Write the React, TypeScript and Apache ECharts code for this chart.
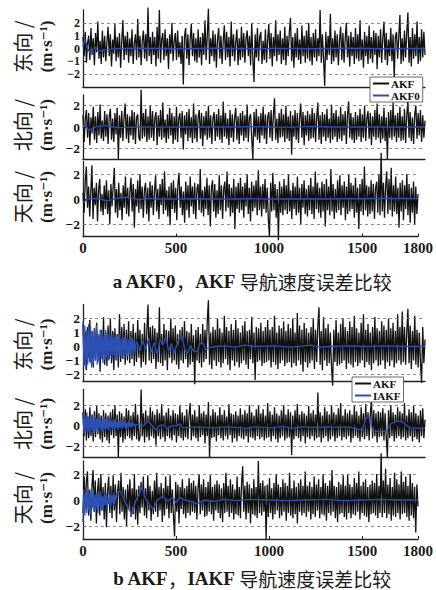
import React, { useEffect, useRef } from "react";
import * as echarts from "echarts";

// sampling step of the error series (s)
const STEP = 6;
const DENSE_STEP = 5;
const X_TICKS = [0, 500, 1000, 1500, 1800];

// ---- Figure a: AKF (black) vs AKF0 (blue) ----
const akfEastA = [
  0.9,-0.6,1.3,-1.1,0.4,1.0,-0.9,1.6,-0.5,0.8,-1.3,1.2,-0.3,2.1,-0.8,0.6,-1.2,1.4,-0.7,1.0,
  -1.0,0.5,1.7,-0.6,1.1,-1.4,0.7,-0.4,1.9,-1.0,0.9,-0.7,1.2,-1.5,0.6,2.2,-0.9,1.0,-0.5,1.3,
  -1.1,0.8,-0.6,1.5,-1.2,0.4,1.1,-0.9,2.3,-0.7,1.0,-1.3,0.6,1.4,-0.8,1.1,-1.0,3.2,-0.6,0.9,
  -1.2,1.3,-0.5,0.9,-1.4,1.7,-0.8,3.0,-1.1,0.7,1.2,-0.9,1.5,-0.6,0.8,-1.6,1.1,-0.4,2.0,-1.0,
  0.6,1.2,-0.9,1.4,-0.7,0.5,-1.2,1.0,-2.8,0.9,1.6,-0.8,1.1,-1.3,0.7,1.9,-0.6,1.2,-1.0,0.8,
  -1.1,1.5,-0.7,0.9,-1.3,1.2,-0.5,2.2,-0.9,1.0,3.1,-1.2,0.8,-0.6,1.4,-1.0,1.1,-1.5,0.7,1.6,
  -0.8,1.0,-1.2,0.6,1.8,-0.9,1.3,-0.7,0.9,-1.4,2.1,-0.6,1.1,-1.0,0.5,1.5,-1.3,0.8,-0.9,1.7,
  -0.7,1.2,-1.1,0.8,1.4,-0.6,1.0,-1.3,2.0,-0.8,-2.6,1.1,-0.7,1.6,-1.0,0.9,1.3,-1.2,0.6,-0.9,
  1.5,-1.1,0.7,1.9,-0.8,1.2,-1.4,0.9,-0.6,2.2,-1.0,1.1,-0.5,1.4,-1.2,0.8,-0.9,1.7,-1.3,1.0,
  -0.6,1.3,2.4,-1.0,0.9,-1.5,1.2,-0.7,1.6,-0.9,0.7,-1.2,1.8,-0.6,1.0,-1.1,1.4,-0.8,2.0,-1.0,
  0.9,-1.3,1.2,-0.7,1.5,-1.0,0.8,-0.6,3.0,-1.1,1.1,-0.8,-2.9,1.3,-0.9,1.0,-0.5,2.7,-1.2,0.8,
  -1.0,1.4,-0.7,1.1,-1.3,0.6,1.7,-0.9,1.2,-1.1,0.8,2.0,-0.7,1.0,-1.4,1.3,-0.6,0.9,-1.2,1.6,
  -0.8,1.1,-1.0,2.2,-0.9,0.7,-1.5,1.3,-0.6,1.0,-1.2,1.8,-0.8,0.9,-1.1,1.4,-0.5,1.2,-1.6,1.0,
  -0.7,1.5,-1.1,0.8,2.1,-0.9,1.2,-1.3,0.7,-0.6,1.6,-1.0,1.1,-2.3,0.9,1.3,-0.8,1.0,2.6,-1.2,
  0.8,-1.0,1.4,-0.7,1.2,2.8,-1.1,0.9,-1.4,1.6,-0.8,1.1,-0.6,2.1,-1.2,0.9,-1.0,1.5,-0.7,1.3,
  -0.5,
];
const akfNorthA = [
  1.1,-1.4,0.7,1.6,-1.0,1.3,-1.7,0.9,-0.6,1.9,-1.2,1.0,-1.5,1.4,-0.8,2.1,-1.1,0.6,-1.3,1.5,
  -0.9,1.2,-1.6,1.0,1.7,-1.2,0.8,-1.4,1.3,-0.7,1.8,-3.0,1.1,-1.0,1.5,-1.3,0.9,2.2,-1.1,1.2,
  -1.5,1.0,-0.8,1.6,-1.2,1.4,-1.6,0.9,1.2,-1.0,-1.3,3.5,-1.1,1.3,-0.9,1.7,-1.4,1.0,-1.2,2.0,
  -1.0,1.5,-1.3,0.8,1.4,-1.7,1.1,-0.9,1.6,-1.2,2.3,-1.0,0.7,-1.5,1.2,-1.1,1.8,-0.8,1.3,-1.6,
  1.0,-1.2,1.9,-1.4,0.8,1.3,-1.0,1.5,-2.1,1.1,-0.7,1.4,-1.3,1.7,-1.0,0.9,-1.5,2.2,-1.1,1.2,
  -1.4,0.9,1.6,-1.1,1.3,-1.8,1.0,-0.8,1.5,-1.2,2.0,-1.0,1.1,-1.6,0.8,1.4,-1.3,1.2,-0.9,1.7,
  -1.2,1.1,-1.5,2.4,-0.9,1.3,-1.1,0.8,-1.7,1.6,-1.0,1.2,-1.4,0.9,1.8,-1.2,1.0,-1.6,1.3,-0.8,
  1.5,-1.3,1.1,-1.0,2.1,-1.4,0.9,1.2,-1.1,-3.0,1.4,-0.9,1.7,-1.2,1.0,-1.5,1.3,-0.8,1.9,-1.1,
  1.2,-1.6,0.9,1.4,-1.0,1.6,-1.3,1.1,2.7,-1.2,0.8,-1.5,1.3,-1.0,1.7,-0.9,1.2,-1.4,2.0,-1.1,
  1.0,-1.3,1.5,-2.6,1.1,-0.9,1.6,-1.2,1.3,-1.5,0.9,2.2,-1.0,1.4,-1.7,1.1,-0.8,1.5,-1.3,1.2,
  -1.1,1.8,-1.0,1.3,-1.4,0.9,2.3,-1.2,1.1,-1.6,1.4,-0.9,1.2,-1.3,1.7,-1.0,0.8,-1.5,2.1,-1.2,
  1.3,-0.9,1.6,-1.4,1.0,-1.1,1.9,-1.3,1.2,-0.8,1.5,-1.6,1.1,2.4,-1.0,1.3,-1.2,0.9,-1.5,1.4,
  -1.2,1.1,-0.9,1.7,-1.4,1.2,-1.0,2.0,-1.3,0.8,1.5,-1.1,1.3,-1.7,1.0,-0.9,1.6,-1.2,2.2,-1.0,
  1.2,-1.5,1.0,-1.1,1.8,-1.3,0.9,-3.0,1.4,-1.0,1.6,-1.2,2.3,-0.9,1.1,-1.4,1.3,-1.0,1.9,-1.3,
  1.0,-1.2,1.7,-1.5,1.1,2.5,-1.0,1.4,-1.3,0.9,-1.6,1.2,2.0,-1.1,1.3,-0.8,1.6,-1.4,1.1,-1.0,
  0.6,
];
const akfUpA = [
  0.5,-1.1,1.4,2.6,-0.7,1.0,-1.4,0.6,2.7,-1.6,0.9,-0.5,1.3,-1.8,0.8,1.6,-1.0,0.4,-1.3,1.1,
  -0.8,1.5,-1.2,0.7,-2.0,1.2,-0.6,1.0,2.5,-1.1,0.8,-1.5,1.3,-0.9,0.5,-1.7,1.1,-0.7,1.8,-1.2,
  0.9,-1.4,0.6,1.7,-1.0,1.2,-2.3,0.8,-0.6,1.5,-1.1,2.0,-0.8,1.0,-1.5,0.7,1.3,-1.2,0.9,-1.8,
  1.4,-0.7,1.1,-1.3,0.6,1.9,-1.0,0.8,-1.6,1.2,-0.5,1.6,-1.2,2.2,-0.9,0.7,-1.4,1.0,-2.1,1.3,
  -0.8,1.5,-1.1,0.9,-1.7,1.2,2.1,-0.7,1.0,-1.3,0.6,-1.9,1.4,-0.9,1.1,-1.5,1.8,-0.6,1.0,-1.2,
  1.3,-1.6,0.8,1.2,-0.9,2.4,-1.1,0.7,-1.4,1.0,-0.8,1.7,-1.3,1.1,-2.2,0.9,1.5,-1.0,1.2,-1.5,
  0.7,-1.2,1.9,-0.9,1.1,-1.6,0.8,1.4,-1.0,2.2,-0.7,1.2,-1.4,0.9,-1.1,1.6,-2.4,1.0,-0.8,1.3,
  -1.1,1.7,-0.9,1.0,-1.5,1.3,-0.6,2.0,-1.2,0.9,-1.8,1.4,-1.0,1.1,-0.7,1.5,-1.3,2.3,-0.9,1.0,
  -1.4,1.2,-0.8,1.6,-1.1,0.9,-1.7,-3.0,1.3,-1.0,2.1,-0.9,1.2,-1.5,0.8,-3.3,1.4,-1.1,1.0,-1.3,
  1.6,-0.9,1.1,-1.2,2.0,-1.0,0.7,-1.6,1.3,-0.8,1.0,-1.3,1.8,-1.1,0.9,-2.0,1.2,-0.7,1.5,-1.2,
  0.8,-1.4,1.1,-0.9,1.7,-1.2,1.0,-1.6,2.2,-0.8,1.3,-1.1,0.9,-1.5,1.4,-1.0,1.2,-2.2,1.6,-0.9,
  1.0,-1.3,2.4,-1.0,1.2,-1.6,0.8,-1.1,1.5,-0.9,1.9,-1.3,1.1,-0.7,1.4,-1.7,1.0,-1.2,2.0,-1.0,
  1.3,-0.8,1.1,-1.5,1.7,-1.1,0.9,-2.4,1.2,-1.0,1.6,-1.3,2.6,-0.9,1.1,-1.4,1.0,-1.2,1.5,-1.0,
  1.2,-1.6,0.9,1.4,-1.1,2.0,-1.3,3.7,-1.0,1.3,-1.5,1.0,2.2,-1.2,1.6,-0.9,2.5,-1.4,1.1,-1.0,
  1.8,-1.2,0.9,-2.3,1.3,-1.0,1.5,-1.7,1.1,-0.8,2.0,-1.3,1.2,-1.9,0.9,-1.1,1.4,-2.0,1.0,-1.2,
  0.4,
];
const akf0EastA = [
  [0,0.1],[5,0.5],[10,0.7],[15,0.5],[25,0.0],[35,-0.3],[45,-0.3],[55,0.0],[65,0.1],[75,-0.1],
  [90,-0.2],[110,-0.1],[150,-0.05],[200,0],[300,0.02],[400,0],[500,-0.02],[600,0],[700,0.02],
  [800,0],[900,-0.02],[1000,0],[1100,0],[1200,-0.02],[1300,0],[1400,0.02],[1500,0],[1600,-0.02],
  [1700,0],[1800,0],
];
const akf0NorthA = [
  [0,-0.1],[8,0.3],[15,0.2],[25,-0.2],[35,-0.3],[50,-0.1],[80,0.05],[120,0.12],[160,0],[200,-0.05],
  [300,0],[400,-0.02],[500,0],[600,0.02],[700,0],[800,0],[900,0.03],[1000,0],[1100,-0.02],
  [1200,0.05],[1300,0],[1400,0],[1500,0],[1600,0.02],[1700,0],[1800,0],
];
const akf0UpA = [
  [0,-0.3],[10,-0.2],[20,0],[50,0.05],[90,0.0],[130,-0.15],[160,-0.05],[200,0.1],[240,0.15],
  [270,0.05],[300,-0.05],[350,0.05],[400,0],[500,0],[600,0.02],[700,0],[800,0],[900,0.02],
  [1000,0],[1100,0],[1200,0.02],[1300,0],[1400,0.02],[1500,0.02],[1600,0.04],[1700,0.04],[1800,0.03],
];

// ---- Figure b: AKF (black) vs IAKF (blue) ----
const akfEastB = [
  1.6,-1.3,1.0,-1.7,1.4,-0.8,1.9,-1.2,1.1,-1.5,1.3,-1.0,1.7,-1.1,0.8,-1.8,1.2,-0.9,2.1,-1.3,
  1.0,-1.4,1.5,-0.9,2.0,-1.2,1.1,-1.7,1.3,-1.0,0.9,-1.5,2.3,-1.1,1.4,-0.9,1.6,-1.3,1.2,-1.0,
  1.8,-1.2,1.1,-0.9,1.6,-1.4,1.0,-1.1,1.9,-0.8,1.2,-1.5,0.9,-1.1,1.7,-1.3,1.1,3.0,-1.0,1.4,
  -1.2,1.5,-0.9,1.3,-1.6,1.0,-1.1,2.8,-1.2,0.9,-1.4,1.6,-1.0,1.2,-1.7,1.1,-0.8,2.0,-1.2,1.3,
  -1.0,1.5,-1.3,0.9,-1.6,1.2,-1.0,1.4,-1.2,1.8,-0.9,1.1,-1.5,1.0,-1.3,1.6,-1.1,0.8,-2.7,1.2,
  -1.0,1.4,-1.2,0.9,-1.5,1.6,-1.1,1.2,-0.9,1.8,3.3,-1.3,1.0,-1.6,1.4,-1.0,1.2,-1.4,2.0,-1.1,
  1.3,-1.5,1.0,-1.2,2.2,-0.9,1.4,-1.3,1.1,-1.7,1.6,-1.0,1.2,-1.4,1.9,-1.1,1.3,-1.5,1.0,-1.2,
  1.5,-1.0,1.8,-1.3,1.1,-1.6,1.2,-0.9,2.1,-1.2,1.0,-2.4,1.4,-1.1,1.3,-1.0,1.7,-1.4,1.1,-1.2,
  1.4,-1.1,1.9,-1.0,1.2,-1.5,1.4,-1.1,2.2,-1.3,1.0,-1.6,1.5,-1.2,1.3,-1.0,1.8,-1.4,1.1,-1.2,
  1.6,-1.1,1.3,-1.5,2.0,-1.2,1.0,-1.4,2.4,-1.0,1.5,-1.3,1.2,-1.8,1.7,-1.1,1.3,-1.5,1.0,-1.2,
  1.4,-1.0,2.0,-1.6,1.2,-1.1,1.5,2.8,-1.3,1.1,-1.7,2.1,-1.0,1.3,-1.4,1.6,-1.2,1.0,-1.5,-2.8,
  1.2,-1.1,1.9,-1.4,1.0,-1.3,1.6,-1.2,2.0,-1.0,1.4,-1.6,1.1,-1.2,1.8,-1.3,1.4,-1.5,2.2,-1.1,
  1.3,-1.4,1.0,-1.2,1.7,-1.0,2.3,-1.5,1.2,-1.1,1.6,-1.3,1.0,-1.7,1.4,-1.2,2.1,-1.0,1.3,-1.4,
  1.1,-1.3,1.8,-1.0,1.5,-1.6,1.2,-1.1,2.0,-1.4,1.3,-1.0,1.7,-1.5,1.1,-1.2,2.3,-1.0,1.4,-1.3,
  2.5,-1.1,1.4,-1.3,1.0,2.7,-1.2,1.5,-1.6,1.1,-1.0,2.2,-1.3,1.2,-1.5,1.0,-1.1,-2.6,1.4,-1.2,
  0.5,
];
const akfNorthB = [
  1.3,-1.0,1.6,-1.4,0.9,-1.2,1.8,-1.0,1.1,-1.5,1.4,-1.1,1.9,-0.8,1.2,-1.3,1.0,-1.6,1.5,-1.1,
  1.2,-1.4,1.0,-1.7,1.3,-0.9,1.6,-1.2,2.0,-1.0,1.1,-3.0,1.4,-1.1,1.2,-1.6,0.9,-1.3,1.7,-1.0,
  1.5,-1.2,1.0,-1.4,1.3,-1.0,2.1,-1.3,1.1,-1.5,-1.1,3.5,-1.0,1.2,-1.6,1.5,-1.1,1.0,-1.4,1.8,
  -1.0,1.4,-1.2,1.1,-1.9,1.6,-1.0,1.2,-1.3,2.1,-1.1,1.0,-1.5,1.3,-1.0,1.7,-1.2,1.0,-1.4,1.5,
  -0.9,1.2,-1.6,1.1,-1.0,1.9,-1.2,1.3,-1.4,1.0,-1.1,1.6,-1.3,1.0,2.2,-1.4,1.1,-1.0,1.5,-1.2,
  0.9,-1.5,2.0,-1.1,1.2,-0.9,1.4,-1.7,1.1,-1.0,2.3,-3.0,1.0,-1.2,1.6,-1.1,1.3,-1.5,1.0,-0.9,
  1.8,-1.2,1.1,-1.4,1.5,-1.0,0.9,-1.3,2.1,-0.9,1.2,-1.6,1.1,-1.2,1.4,-1.5,1.0,-1.0,1.7,-1.2,
  1.1,-1.3,1.5,-1.0,1.2,-1.6,2.0,-1.1,1.3,-1.2,1.0,-1.4,1.6,-1.0,1.9,-1.3,1.2,-1.1,1.6,-1.4,
  1.0,-1.2,2.2,-1.1,1.4,-1.5,1.1,-1.0,1.8,-1.3,1.2,-1.6,1.0,-1.2,1.5,-1.0,2.0,-1.4,1.1,-1.2,
  1.6,-1.1,1.3,-2.8,1.0,-1.3,1.5,-1.0,2.1,-1.2,1.1,-1.5,1.4,-1.0,1.2,-1.7,1.0,-1.1,1.9,-1.3,
  1.2,-1.0,1.5,-1.4,1.1,-1.2,3.2,-1.1,1.3,-1.6,1.0,-1.2,1.8,-1.0,1.4,-1.5,1.1,-1.3,2.0,-1.0,
  1.3,-1.5,1.1,-1.2,1.7,-1.0,2.2,-1.4,1.0,-1.1,1.6,-1.3,1.2,-1.0,1.5,-1.6,1.1,-1.2,1.9,-1.0,
  1.4,-1.2,1.0,-1.5,1.8,-1.1,1.2,-1.3,2.1,-1.0,1.3,-1.4,1.1,2.6,-1.2,1.5,-1.0,1.2,-1.6,1.4,
  -1.1,1.3,-1.0,1.7,-1.4,1.2,-1.1,-3.0,1.5,-1.2,2.0,-1.0,1.3,-1.5,1.1,-1.2,1.8,-1.0,1.4,-1.3,
  1.2,-1.1,2.2,-1.4,1.0,-1.2,1.6,-1.0,1.3,-1.5,1.9,-1.1,1.2,-1.3,1.0,-1.6,1.5,-1.0,1.7,-1.2,
  0.6,
];
const akfUpB = [
  -1.0,1.8,-0.6,1.4,2.2,-1.2,0.8,-1.6,1.1,2.3,-0.9,1.5,-1.8,0.7,1.7,-1.2,2.0,-0.8,1.0,-1.5,
  1.3,-2.1,0.6,1.8,-1.0,1.1,-1.4,1.9,-0.8,1.2,-1.7,0.7,1.5,-1.1,2.1,-0.9,1.0,-1.5,0.8,-2.0,
  1.2,-0.7,1.6,-1.3,0.9,-1.1,2.0,-1.5,0.8,-1.9,1.1,-1.0,1.4,-0.6,1.8,-1.2,0.9,-1.4,1.9,-0.8,
  1.1,-1.6,0.7,-1.1,1.5,-0.9,2.1,-1.3,1.0,-0.8,1.3,-1.7,0.9,-1.2,1.8,-0.7,1.1,-1.4,1.9,-1.0,
  0.8,-1.3,-2.8,1.4,-0.9,1.2,-1.8,1.0,-0.7,1.6,-1.1,0.9,-1.4,1.1,-1.0,1.7,-1.2,1.3,-0.9,1.5,
  -1.0,1.1,-1.5,0.9,2.0,-1.1,1.2,-0.8,1.6,-1.3,1.0,-1.2,1.4,-0.9,1.9,-1.1,1.0,-1.6,1.2,-0.8,
  1.5,-1.0,1.2,-1.4,0.9,-1.7,1.3,-1.0,2.1,-0.9,1.1,-1.3,1.6,-1.0,1.2,-1.5,0.8,-1.1,1.8,-1.2,
  1.0,-1.4,1.3,2.6,-0.9,1.1,-1.5,1.4,-1.0,1.2,-1.8,0.9,-1.1,1.6,-1.2,1.0,-1.4,3.0,-1.0,1.3,
  -1.2,1.5,-0.9,1.1,-3.0,1.2,-1.3,1.7,-1.0,0.9,-1.5,1.3,-1.1,2.0,-0.8,1.2,-1.4,1.0,-1.2,1.6,
  -0.9,1.3,-1.6,1.1,-1.0,2.1,-1.2,0.9,-1.4,1.5,-1.1,1.0,-1.8,1.3,-0.9,1.6,-1.2,1.1,-1.0,2.2,
  -1.3,1.1,-0.9,1.4,-1.5,1.0,-1.1,1.8,-1.3,1.2,-0.8,1.6,-1.4,1.0,-1.1,2.0,-1.2,1.3,-1.6,1.1,
  -1.0,1.5,-1.2,2.3,-0.9,1.1,-1.4,1.0,-1.7,1.4,-1.1,1.2,-1.0,1.9,-1.3,1.1,-1.5,2.0,-1.0,1.2,
  -1.4,1.0,-1.1,1.7,-1.2,1.3,-0.9,2.2,-1.5,1.1,-1.0,1.4,-1.2,1.6,-1.3,1.0,-1.7,1.2,-1.1,1.5,
  -1.0,1.3,-1.2,2.0,-1.4,1.1,-1.0,3.6,-1.3,1.5,-1.0,2.4,-1.4,1.2,-1.1,1.7,-1.6,1.0,-1.2,2.1,
  -1.3,1.6,-1.0,1.2,-1.5,2.2,-1.1,1.4,-1.0,1.8,-1.3,1.1,-1.6,2.0,-1.2,1.3,-1.4,1.0,-2.5,1.2,
  -0.5,
];
// IAKF: densely sampled start (every 5 s), then sparse [t, v] points
const iakfEastDense = [
  1.8,-1.4,1.5,-1.6,1.2,-1.3,1.6,-1.1,1.4,-1.5,1.0,-1.2,1.3,-1.0,1.5,-1.3,0.9,-1.1,1.2,-0.9,
  1.1,-1.2,0.8,-1.0,1.2,-0.8,0.9,-1.0,1.0,-0.7,0.8,-0.9,1.0,-0.6,0.7,-0.9,0.8,-0.6,0.9,-0.7,
  0.6,-0.8,0.7,-0.5,0.8,-0.6,0.6,-0.7,0.5,-0.6,0.7,-0.5,0.6,-0.4,0.5,-0.5,0.3,
];
const iakfEastSparse = [
  [285,0.3],[300,-0.3],[315,0.4],[330,-0.2],[345,0.6],[360,-0.4],[375,0.3],[390,-0.6],[405,0.5],
  [420,0.1],[435,0.7],[450,-0.3],[465,0.2],[480,-0.5],[500,0.4],[520,0.8],[535,-0.2],[550,-0.5],
  [565,0.1],[580,-0.3],[600,-0.4],[615,0.2],[630,0.3],[645,-0.2],[660,-0.1],[700,0.0],[750,0.05],
  [800,-0.05],[850,0.1],[900,0.0],[1000,0.05],[1100,-0.05],[1200,0.1],[1250,-0.05],[1300,0.0],
  [1400,0.05],[1500,0.0],[1600,0.05],[1700,0.0],[1800,0.0],
];
const iakfNorthDense = [
  1.2,-0.7,1.0,-0.5,1.3,-0.6,0.9,-0.8,1.1,-0.4,0.8,-0.7,1.0,-0.5,0.7,-0.6,0.9,-0.3,0.8,-0.5,
  0.6,-0.6,0.9,-0.4,0.7,-0.3,0.6,-0.5,0.8,-0.2,0.5,-0.4,0.6,-0.3,0.7,-0.2,0.4,-0.4,0.5,-0.2,
  0.6,-0.3,0.4,-0.1,0.5,-0.3,0.3,-0.2,0.5,-0.1,0.3,-0.2,0.4,0.0,0.2,-0.1,0.1,
];
const iakfNorthSparse = [
  [300,0.2],[320,0.0],[340,0.5],[360,0.1],[385,-0.4],[400,0.0],[425,0.1],[445,-0.3],[465,0.0],
  [490,0.0],[510,0.2],[525,-0.2],[550,-0.15],[600,-0.1],[650,-0.15],[700,-0.2],[750,-0.1],
  [800,-0.15],[860,-0.25],[900,-0.1],[1000,-0.2],[1050,-0.05],[1100,-0.25],[1150,-0.1],
  [1200,-0.15],[1280,-0.1],[1350,-0.15],[1400,-0.1],[1440,-0.3],[1470,-0.4],[1490,0.8],
  [1510,0.85],[1525,-0.5],[1560,-0.55],[1600,-0.5],[1620,0.2],[1650,0.45],[1680,0.4],
  [1700,0.1],[1720,-0.2],[1800,-0.25],
];
const iakfUpDense = [
  -1.7,0.8,-1.2,0.6,-1.0,0.9,-0.8,0.5,-1.1,0.7,-0.6,0.8,-0.9,0.4,-0.7,0.6,-1.0,0.5,-0.5,0.7,
  -0.8,0.3,-0.6,0.6,-0.4,0.5,-0.7,0.2,-0.3,0.5,-0.5,0.4,-0.2,0.6,-0.3,0.3,0.5,
];
const iakfUpSparse = [
  [200,0.7],[230,-0.3],[263,-1.1],[285,0.0],[300,0.4],[316,1.0],[335,0.1],[355,-0.3],[377,-0.7],
  [400,0.0],[430,0.3],[455,-0.1],[482,0.2],[500,-0.2],[520,0.2],[545,0.0],[580,-0.1],[615,-0.3],
  [650,0.0],[700,-0.1],[760,0.05],[820,-0.05],[900,0.05],[1000,0.0],[1100,-0.05],[1200,0.0],
  [1300,0.05],[1400,-0.05],[1500,0.0],[1600,0.05],[1700,0.0],[1800,0.0],
];

const toPairs = (vals: number[], step: number) => vals.map((v, i) => [i * step, v]);

const SERIF = "'Liberation Serif', 'DejaVu Serif', serif";
const CJK = "'Noto Sans CJK SC', sans-serif";
const BLACK = "#111111";
const BLUE = "#2d50b4";

const panels = [
  { top: 10, height: 77, min: -3, max: 3, ticks: [-2, -1, 0, 1, 2], label: "东向 /", black: toPairs(akfEastA, STEP), blue: akf0EastA, blueName: "AKF0", xl: false },
  { top: 95, height: 64, min: -3, max: 3, ticks: [-2, 0, 2], label: "北向 /", black: toPairs(akfNorthA, STEP), blue: akf0NorthA, blueName: "AKF0", xl: false },
  { top: 161.5, height: 75, min: -3, max: 3, ticks: [-2, 0, 2], label: "天向 /", black: toPairs(akfUpA, STEP), blue: akf0UpA, blueName: "AKF0", xl: true },
  { top: 304.5, height: 77, min: -2.5, max: 3, ticks: [-2, -1, 0, 1, 2], label: "东向 /", black: toPairs(akfEastB, STEP), blue: [...toPairs(iakfEastDense, DENSE_STEP), ...iakfEastSparse], blueName: "IAKF", xl: false },
  { top: 389.5, height: 67.5, min: -3, max: 3.5, ticks: [-2, 0, 2], label: "北向 /", black: toPairs(akfNorthB, STEP), blue: [...toPairs(iakfNorthDense, DENSE_STEP), ...iakfNorthSparse], blueName: "IAKF", xl: false },
  { top: 461, height: 78, min: -3, max: 3, ticks: [-2, 0, 2], label: "天向 /", black: toPairs(akfUpB, STEP), blue: [...toPairs(iakfUpDense, DENSE_STEP), ...iakfUpSparse], blueName: "IAKF", xl: true },
];

export default function App() {
  const ref = useRef<HTMLDivElement>(null);
  useEffect(() => {
    if (!ref.current) return;
    const chart = echarts.init(ref.current, undefined, { renderer: "svg" });
    const grid = panels.map((p) => ({ left: 83, width: 342, top: p.top, height: p.height }));
    const xAxis = panels.map((p, i) => ({
      type: "value",
      gridIndex: i,
      min: 0,
      max: 1800,
      axisLine: { show: true, onZero: false, lineStyle: { color: "#222", width: 1.3 } },
      axisTick: { show: p.xl, inside: true, length: 3, customValues: X_TICKS, lineStyle: { color: "#222" } },
      axisLabel: {
        show: p.xl,
        customValues: X_TICKS,
        hideOverlap: false,
        fontFamily: SERIF,
        fontWeight: "bold",
        fontSize: 15,
        color: "#1a1a1a",
        margin: 4,
        formatter: (v: number) => String(v),
      },
      splitLine: { show: false },
    }));
    const yAxis = panels.map((p, i) => {
      const tight = p.ticks.length > 3 && p.height / (p.max - p.min) < 13.5;
      return {
        type: "value",
        gridIndex: i,
        min: p.min,
        max: p.max,
        axisLine: { show: true, onZero: false, lineStyle: { color: "#222", width: 1.3 } },
        axisTick: { show: true, inside: true, length: 3, customValues: p.ticks, lineStyle: { color: "#222" } },
        axisLabel: {
          customValues: p.ticks,
          hideOverlap: false,
          fontFamily: SERIF,
          fontWeight: "bold",
          fontSize: tight ? 12 : 13.5,
          lineHeight: tight ? 11 : 13,
          color: "#1a1a1a",
          margin: 3,
          formatter: (v: number) => String(v).replace("-", "−"),
        },
        splitLine: { show: false },
      };
    });
    const series: any[] = [];
    panels.forEach((p, i) => {
      series.push({
        type: "line",
        name: "AKF",
        xAxisIndex: i,
        yAxisIndex: i,
        data: p.black,
        symbol: "none",
        clip: false,
        z: 2,
        lineStyle: { color: BLACK, width: 1.3 },
        itemStyle: { color: BLACK },
        markLine: {
          silent: true,
          symbol: ["none", "none"],
          label: { show: false },
          lineStyle: { type: [3, 3], color: "#6a7080", width: 0.8 },
          data: [{ yAxis: 2 }, { yAxis: -2 }],
        },
      });
      series.push({
        type: "line",
        name: p.blueName,
        xAxisIndex: i,
        yAxisIndex: i,
        data: p.blue,
        symbol: "none",
        clip: false,
        z: 3,
        lineStyle: { color: BLUE, width: 1.3 },
        itemStyle: { color: BLUE },
      });
    });
    const legendBase = {
      orient: "vertical",
      selectedMode: false,
      icon: "rect",
      itemWidth: 16,
      itemHeight: 2,
      itemGap: 1,
      padding: [1, 3, 1, 3],
      backgroundColor: "#fff",
      borderColor: "#444",
      borderWidth: 0.8,
      textStyle: { fontFamily: SERIF, fontWeight: "bold", fontSize: 11, color: "#111", padding: [0, 0, 0, -3] },
    };
    const graphic: any[] = [];
    panels.forEach((p) => {
      const y0 = p.top + (p.height * p.max) / (p.max - p.min);
      graphic.push({
        type: "text",
        x: 22,
        y: y0 - 2,
        rotation: Math.PI / 2,
        style: { text: p.label, font: `20px ${CJK}`, fill: "#1a1a1a", align: "center", verticalAlign: "middle" },
      });
      graphic.push({
        type: "text",
        x: 46,
        y: y0 - 2,
        rotation: Math.PI / 2,
        style: { text: "(m·s⁻¹)", font: `bold 17px ${SERIF}`, fill: "#1a1a1a", align: "center", verticalAlign: "middle" },
      });
    });
    const caption = (y: number, first: string, second: string) => ({
      type: "text",
      x: 252,
      y,
      style: {
        text: `{l|${first}}{c|，}{l|${second} }{c|导航速度误差比较}`,
        align: "center",
        verticalAlign: "middle",
        rich: {
          l: { font: `bold 19px ${SERIF}`, fill: "#1a1a1a" },
          c: { font: `19px ${CJK}`, fill: "#1a1a1a" },
        },
      },
    });
    graphic.push(caption(281, "a AKF0", "AKF"));
    graphic.push(caption(578, "b AKF", "IAKF"));

    chart.setOption({
      animation: false,
      backgroundColor: "#fff",
      grid,
      xAxis,
      yAxis,
      series,
      legend: [
        { ...legendBase, left: 370, top: 77, data: ["AKF", "AKF0"] },
        { ...legendBase, left: 352, top: 377, data: ["AKF", "IAKF"] },
      ],
      graphic,
    });
    return () => chart.dispose();
  }, []);
  return (
    <div
      ref={ref}
      style={{ position: "fixed", left: 0, top: 0, width: 436, height: 590, background: "#fff" }}
    />
  );
}
